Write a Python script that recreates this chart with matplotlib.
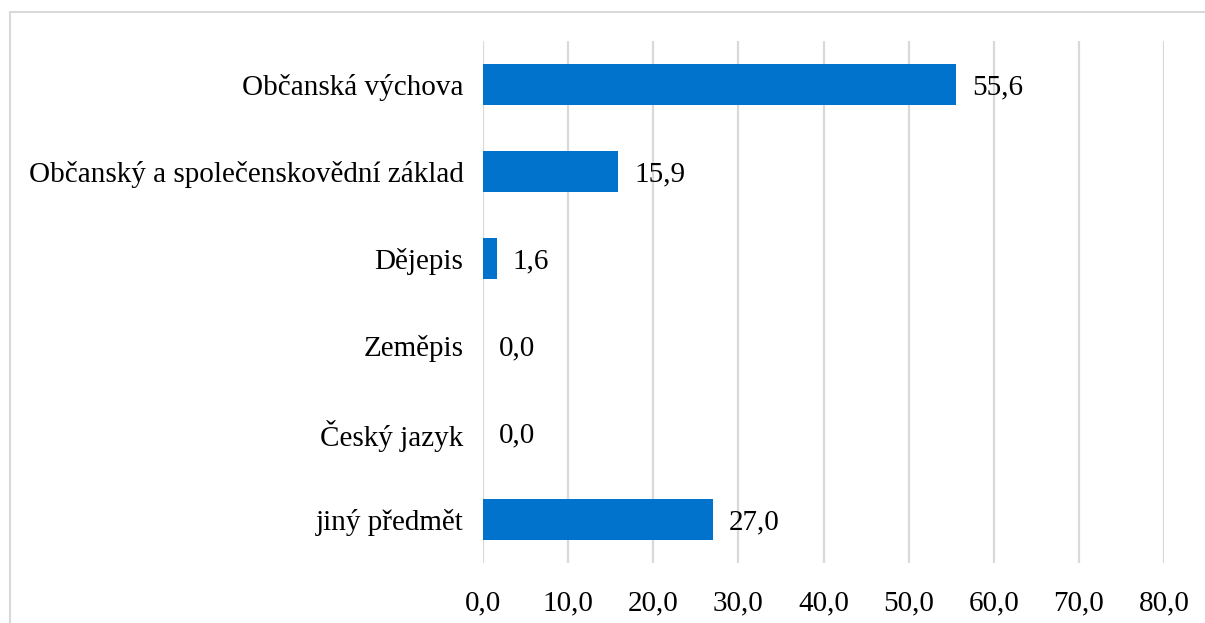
import matplotlib.pyplot as plt
from matplotlib.patches import Rectangle

categories = ['Občanská výchova', 'Občanský a společenskovědní základ', 'Dějepis',
              'Zeměpis', 'Český jazyk', 'jiný předmět']
values = [55.6, 15.9, 1.6, 0.0, 0.0, 27.0]
ticks = [0, 10, 20, 30, 40, 50, 60, 70, 80]

plt.rcParams['font.family'] = ['Liberation Serif', 'DejaVu Serif']
fs = 21

W, H = 1205, 623
fig = plt.figure(figsize=(W / 100, H / 100), dpi=100)
ax = fig.add_axes([483 / W, 1 - 563 / H, (1164 - 483) / W, (563 - 41) / H])

pos = list(range(len(categories)))
ax.barh(pos, values, height=0.47, color='#0173cc', edgecolor='none', zorder=3)
for p, v in zip(pos, values):
    ax.text(v + 1.9, p, f'{v:.1f}'.replace('.', ','), va='center_baseline', ha='left',
            fontsize=fs, zorder=4)

ax.set_xlim(0, 80)
ax.set_ylim(len(categories) - 0.5, -0.5)
ax.set_xticks(ticks)
ax.set_xticklabels([f'{t:.1f}'.replace('.', ',') for t in ticks], fontsize=fs)
ax.set_yticks(pos)
ax.set_yticklabels(categories, fontsize=fs, va='center_baseline')
ax.tick_params(length=0)
ax.tick_params(axis='y', pad=14)
ax.tick_params(axis='x', pad=20)
ax.grid(axis='x', color='#d9d9d9', linewidth=1.6, zorder=0)
for s in ax.spines.values():
    s.set_visible(False)

fig.patches.append(Rectangle((10 / W, -0.1), 1.1, 1 - 12 / H + 0.1, transform=fig.transFigure,
                             fill=False, edgecolor='#d9d9d9', linewidth=1.5))

fig.savefig('out.png', dpi=100)
